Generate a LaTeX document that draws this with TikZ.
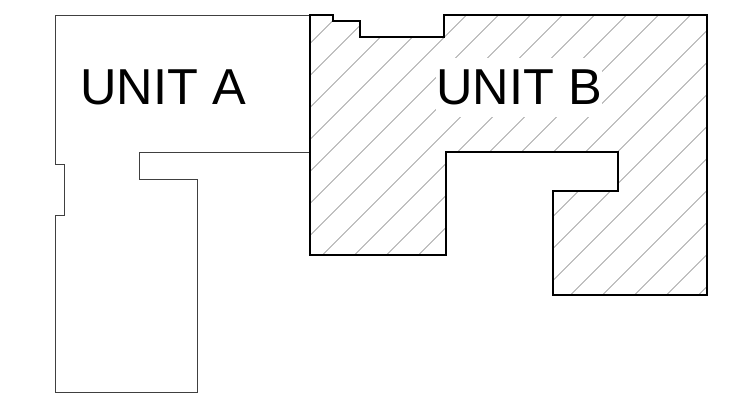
\documentclass[tikz,border=0pt]{standalone}
\usepackage{fontspec}
\setmainfont{Liberation Sans}
\tikzset{
  unitlabel/.style={inner sep=0pt,anchor=base west,font=\fontsize{50.5}{50.5}\selectfont,text=black},
  thinwall/.style={draw=black!75,line width=0.8pt,line join=miter},
  thickwall/.style={draw=black,line width=2pt,line join=miter,line cap=rect},
  hatchline/.style={draw=black!50,line width=0.6pt}
}
\begin{document}
\begin{tikzpicture}[x=1pt,y=-1pt]
\useasboundingbox (0,0) rectangle (729,404);
\fill[white] (0,0) rectangle (729,404);
\begin{scope}
  \clip (310,15) -- (333,15) -- (333,21) -- (359.5,21) -- (359.5,37.5) -- (444,37.5) -- (444,15) -- (706.5,15) -- (706.5,294.5) -- (553,294.5) -- (553,191) -- (618,191) -- (618,152) -- (446,152) -- (446,255) -- (310,255) -- cycle;
  \foreach \k in {10,...,44} {
    \draw[hatchline] ({32*\k+1.5},0) -- ({32*\k+1.5-400},400);
  }
  \fill[white] (436,58) rectangle (602,117);
\end{scope}
\draw[thinwall] (310,15) -- (55,15) -- (55,164) -- (64,164) -- (64,215.5) -- (55,215.5) -- (55,392) -- (197,392) -- (197,179.5) -- (139,179.5) -- (139,152) -- (310,152);
\draw[thickwall] (310,15) -- (333,15) -- (333,21) -- (359.5,21) -- (359.5,37.5) -- (444,37.5) -- (444,15) -- (706.5,15) -- (706.5,294.5) -- (553,294.5) -- (553,191) -- (618,191) -- (618,152) -- (446,152) -- (446,255) -- (310,255) -- cycle;
\node[unitlabel] (unita) at (80,104.5) {UNIT A};
\node[unitlabel] (unitb) at (436,104.5) {UNIT B};
\end{tikzpicture}
\end{document}
